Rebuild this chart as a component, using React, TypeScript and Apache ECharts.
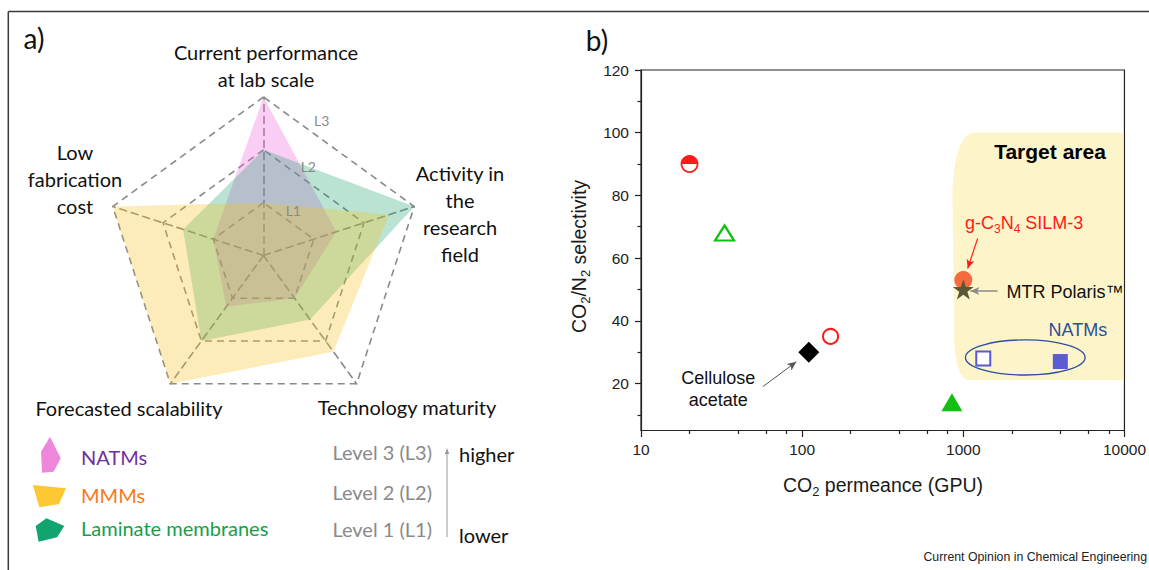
import React, { useEffect, useRef } from "react";
import * as echarts from "echarts";

// ---------------- panel a) : radar ----------------
const radarAxisNames = [
  "Current performance\nat lab scale",
  "Low\nfabrication\ncost",
  "Forecasted scalability",
  "Technology maturity",
  "Activity in\nthe\nresearch\nfield",
];
const radarMax = 3; // L3
const natmsLevels = [3, 1, 1.2, 1, 1.45];
const mmmsLevels = [1, 3, 3, 2.25, 2.5];
const laminateLevels = [2, 1.6, 2, 1.5, 3];
const membraneNames = ["NATMs", "MMMs", "Laminate membranes"];
const levelTags = ["L1", "L2", "L3"];
const levelLegend = ["Level 3 (L3)", "Level 2 (L2)", "Level 1 (L1)"];
const levelWords = ["higher", "lower"];

// ---------------- panel b) : scatter ----------------
const xMinorTicks = [20, 40, 60, 80, 200, 400, 600, 800, 2000, 4000, 6000, 8000];
const yMajorTicks = [20, 40, 60, 80, 100, 120];
const yMinorTicks = [10, 30, 50, 70, 90, 110];
const halfFilledCircle = [[20, 90]];
const openTriangle = [[33, 68]];
const celluloseAcetate = [[110, 30]];
const openCircle = [[150, 35]];
const filledTriangle = [[850, 14]];
const gC3N4Silm3 = [[1000, 53]];
const mtrPolaris = [[1000, 50]];
const natmsOpenSquare = [[1330, 28]];
const natmsFilledSquare = [[4000, 27]];
const targetAreaX = [855, 10000];
const targetAreaY = [21, 100];
const natmsEllipseX = [1031, 5700];
const natmsEllipseY = [22.7, 33.9];
const celluloseArrow = [[57, 19], [92, 26.9]];
const silmArrow = [[1228, 66.3], [1065, 56.7]];
const mtrArrow = [[1633, 49.5], [1107, 49.5]];

const LEFT_FONT = 'Lato, "Open Sans", sans-serif';
const RIGHT_FONT = '"Liberation Sans", Arial, sans-serif';

function txt(t: string, x: number, y: number, o: any = {}) {
  return {
    type: "text",
    x,
    y,
    rotation: o.rotation || 0,
    silent: true,
    z: 100,
    style: {
      text: t,
      fill: o.color || "#111",
      fontSize: o.size || 20,
      fontFamily: o.family || LEFT_FONT,
      fontWeight: o.weight || "normal",
      align: o.align || "center",
      verticalAlign: o.valign || "middle",
      lineHeight: o.lineHeight,
      rich: o.rich,
    },
  };
}

const STAR =
  "path://M50,0 L61.8,35.3 L98.9,35.3 L68.8,57.1 L80.3,92.7 L50,70.9 L19.7,92.7 L31.2,57.1 L1.1,35.3 L38.2,35.3 Z";

function buildOption(): any {
  const radarNamePos = [
    [266, 65.3],
    [75, 179.3],
    [129, 408.3],
    [407, 406.7],
    [460, 213.3],
  ];
  const levelTagPos = [
    [293.3, 210],
    [308.3, 166],
    [321.7, 120.7],
  ];
  const legendIcons = [
    { pts: [[50, 436.7], [60.7, 458.3], [53.6, 471.7], [42.1, 472.7], [41, 451.7]], color: "#ee86dc" },
    { pts: [[32.9, 485], [66, 488.3], [59, 504], [39.3, 507.3]], color: "#fdc832" },
    { pts: [[35.7, 526], [46.4, 518.3], [64.3, 526], [57.1, 537.3], [38.6, 541.7]], color: "#12a46e" },
  ];
  const legendColors = ["#7030a0", "#f47a20", "#14a049"];
  const legendY = [456.7, 495, 528.3];
  const levelY = [451.7, 491.7, 529.3];

  const graphic: any[] = [
    { type: "line", silent: true, shape: { x1: 8.3, y1: 11.6, x2: 1149, y2: 11.6 }, style: { stroke: "#3a3a3a", lineWidth: 1.5 } },
    { type: "line", silent: true, shape: { x1: 8.3, y1: 11.6, x2: 8.3, y2: 570 }, style: { stroke: "#3a3a3a", lineWidth: 1.5 } },
    txt("a)", 34, 38, { size: 28 }),
    txt("b)", 597, 40, { size: 28 }),
  ];
  radarAxisNames.forEach((n, i) => {
    graphic.push(txt(n, radarNamePos[i][0], radarNamePos[i][1], { size: 20, lineHeight: 27 }));
  });
  levelTags.forEach((t, i) => {
    graphic.push(txt(t, levelTagPos[i][0], levelTagPos[i][1], { size: 14, color: "#8a8a8a" }));
  });
  membraneNames.forEach((n, i) => {
    graphic.push({ type: "polygon", silent: true, shape: { points: legendIcons[i].pts }, style: { fill: legendIcons[i].color } });
    graphic.push(txt(n, 81, legendY[i], { size: 20, color: legendColors[i], align: "left" }));
  });
  levelLegend.forEach((t, i) => {
    graphic.push(txt(t, 432, levelY[i], { size: 20, color: "#8a8a8a", align: "right" }));
  });
  graphic.push({ type: "line", silent: true, shape: { x1: 447, y1: 537, x2: 447, y2: 452 }, style: { stroke: "#9a9a9a", lineWidth: 1 } });
  graphic.push({ type: "polygon", silent: true, shape: { points: [[447, 448], [444.8, 454], [449.2, 454]] }, style: { fill: "#9a9a9a" } });
  graphic.push(txt(levelWords[0], 459, 454.3, { size: 20, align: "left" }));
  graphic.push(txt(levelWords[1], 459, 535, { size: 20, align: "left" }));

  // panel b texts
  const subRich = (size: number, color: string) => ({
    a: { fontSize: size, fontFamily: RIGHT_FONT, fill: color, color, lineHeight: 24 },
    s: { fontSize: Math.round(size * 0.66), fontFamily: RIGHT_FONT, fill: color, color, lineHeight: 12, padding: [12, 0, 0, 0] },
  });
  graphic.push(
    txt("{a|CO}{s|2}{a| permeance (GPU)}", 883, 485, { family: RIGHT_FONT, rich: subRich(19.5, "#1a1a1a") })
  );
  graphic.push(
    txt("{a|CO}{s|2}{a|/N}{s|2}{a| selectivity}", 579, 256.5, {
      family: RIGHT_FONT,
      rotation: Math.PI / 2,
      rich: subRich(19.5, "#1a1a1a"),
    })
  );
  graphic.push(txt("Target area", 1050, 151.7, { family: RIGHT_FONT, size: 21, weight: "bold", color: "#000" }));
  graphic.push(
    txt("{a|g-C}{s|3}{a|N}{s|4}{a| SILM-3}", 965, 223, {
      family: RIGHT_FONT,
      align: "left",
      rich: {
        a: { fontSize: 18, fontFamily: RIGHT_FONT, fill: "#ff1a1a", color: "#ff1a1a", lineHeight: 22 },
        s: { fontSize: 12, fontFamily: RIGHT_FONT, fill: "#ff1a1a", color: "#ff1a1a", lineHeight: 10, padding: [12, 0, 0, 0] },
      },
    })
  );
  graphic.push(txt("MTR Polaris\u2122", 1006.5, 291.7, { family: RIGHT_FONT, size: 18, align: "left", color: "#111" }));
  graphic.push(txt("NATMs", 1048.5, 330, { family: RIGHT_FONT, size: 18, align: "left", color: "#2c4f9c" }));
  graphic.push(txt("Cellulose\nacetate", 718.3, 389.2, { family: RIGHT_FONT, size: 18, lineHeight: 21.7, color: "#111" }));
  graphic.push(
    txt("Current Opinion in Chemical Engineering", 1147, 557, { family: RIGHT_FONT, size: 12.3, align: "right", color: "#222" })
  );

  const axisLine = { show: true, lineStyle: { color: "#222", width: 1.2 } };
  const solid = (style: any) => ({ opacity: 1, ...style });

  return {
    animation: false,
    backgroundColor: "#fff",
    graphic,
    radar: {
      center: [263.5, 255.5],
      radius: 158.5,
      startAngle: 90,
      splitNumber: 3,
      shape: "polygon",
      indicator: radarAxisNames.map((n) => ({ name: n, min: 0, max: radarMax })),
      axisName: { show: false },
      axisLine: { lineStyle: { color: "#8a8a8a", width: 1.6, type: [7, 5] } },
      splitLine: { lineStyle: { color: "#8a8a8a", width: 1.6, type: [7, 5] } },
      splitArea: { show: false },
      axisTick: { show: false },
      axisLabel: { show: false },
    },
    grid: {
      left: 641,
      top: 70,
      width: 484.5,
      height: 360.5,
      show: true,
      borderColor: "#222",
      borderWidth: 1.2,
      backgroundColor: "transparent",
    },
    xAxis: [
      {
        type: "log",
        logBase: 10,
        min: 10,
        max: 10000,
        position: "bottom",
        axisLine,
        axisTick: { show: true, length: 6.5, lineStyle: { color: "#222", width: 1.2 } },
        axisLabel: {
          color: "#222",
          fontSize: 15.5,
          fontFamily: RIGHT_FONT,
          margin: 11,
          formatter: (v: number) => String(Math.round(v)),
        },
        splitLine: { show: false },
        minorTick: { show: false },
      },
      {
        type: "value",
        min: 1,
        max: 4,
        position: "bottom",
        axisLine: { show: false },
        axisTick: { show: true, length: 3.5, customValues: xMinorTicks.map((v) => Math.log10(v)), lineStyle: { color: "#222", width: 1.2 } },
        axisLabel: { show: false },
        splitLine: { show: false },
      },
    ],
    yAxis: [
      {
        type: "value",
        min: 5,
        max: 120,
        position: "left",
        axisLine,
        axisTick: { show: true, length: 6, customValues: yMajorTicks, lineStyle: { color: "#222", width: 1.2 } },
        axisLabel: { color: "#222", fontSize: 15.5, fontFamily: RIGHT_FONT, margin: 12, customValues: yMajorTicks },
        splitLine: { show: false },
      },
      {
        type: "value",
        min: 5,
        max: 120,
        position: "left",
        axisLine: { show: false },
        axisTick: { show: true, length: 3.5, customValues: yMinorTicks, lineStyle: { color: "#222", width: 1.2 } },
        axisLabel: { show: false },
        splitLine: { show: false },
      },
    ],
    series: [
      {
        type: "radar",
        symbol: "none",
        silent: true,
        data: [
          { name: membraneNames[0], value: natmsLevels, areaStyle: { color: "rgba(240,100,220,0.45)" }, lineStyle: { opacity: 0, width: 0 } },
          { name: membraneNames[2], value: laminateLevels, areaStyle: { color: "rgba(20,160,110,0.42)" }, lineStyle: { opacity: 0, width: 0 } },
          { name: membraneNames[1], value: mmmsLevels, areaStyle: { color: "rgba(250,195,30,0.44)" }, lineStyle: { opacity: 0, width: 0 } },
        ],
      },
      {
        type: "custom",
        coordinateSystem: "cartesian2d",
        silent: true,
        z: 1,
        data: [[targetAreaX[0], targetAreaY[0], targetAreaX[1], targetAreaY[1]]],
        renderItem: (params: any, api: any) => {
          const p1 = api.coord([api.value(0), api.value(3)]);
          const p2 = api.coord([api.value(2), api.value(1)]);
          const L = p1[0], T = p1[1], R = p2[0] - 1, B = p2[1];
          const d =
            `M${L + 19} ${T} L${R} ${T} L${R} ${B} L${L + 16} ${B} ` +
            `C${L + 8} ${B - 2} ${L + 3} ${B - 15} ${L + 2} ${B - 40} ` +
            `L${L} ${T + 60} C${L + 1} ${T + 25} ${L + 8} ${T + 4} ${L + 19} ${T} Z`;
          return { type: "path", shape: { pathData: d }, style: { fill: "#fdf5c9" } };
        },
      },
      {
        type: "custom",
        coordinateSystem: "cartesian2d",
        silent: true,
        z: 3,
        data: [[natmsEllipseX[0], natmsEllipseY[0], natmsEllipseX[1], natmsEllipseY[1]]],
        renderItem: (params: any, api: any) => {
          const p1 = api.coord([api.value(0), api.value(3)]);
          const p2 = api.coord([api.value(2), api.value(1)]);
          return {
            type: "ellipse",
            shape: { cx: (p1[0] + p2[0]) / 2, cy: (p1[1] + p2[1]) / 2, rx: Math.abs(p2[0] - p1[0]) / 2, ry: Math.abs(p2[1] - p1[1]) / 2 },
            style: { fill: "none", stroke: "#2d4f9f", lineWidth: 1.3 },
          };
        },
      },
      { type: "scatter", silent: true, data: halfFilledCircle, symbol: "circle", symbolSize: 16, itemStyle: solid({ color: "#fff", borderColor: "#ff1a1a", borderWidth: 1.8 }), z: 5 },
      { type: "scatter", silent: true, data: halfFilledCircle, symbol: "path://M0,10 A10,10 0 0 1 20,10 Z", symbolSize: [16, 8], symbolOffset: [0, -4], itemStyle: solid({ color: "#ff1a1a" }), z: 6 },
      { type: "scatter", silent: true, data: openTriangle, symbol: "triangle", symbolSize: [19, 15], itemStyle: solid({ color: "#fff", borderColor: "#10c010", borderWidth: 2.2 }), z: 5 },
      {
        type: "scatter",
        silent: true,
        data: celluloseAcetate,
        symbol: "diamond",
        symbolSize: [21, 21],
        itemStyle: solid({ color: "#000" }),
        z: 5,
        markLine: {
          silent: true,
          symbol: ["none", "arrow"],
          symbolSize: [6, 9],
          label: { show: false },
          lineStyle: { type: "solid" },
          data: [
            [{ coord: celluloseArrow[0], lineStyle: { color: "#555", width: 1, type: "solid" } }, { coord: celluloseArrow[1] }],
            [{ coord: silmArrow[0], lineStyle: { color: "#ff1a1a", width: 1.2, type: "solid" } }, { coord: silmArrow[1] }],
            [{ coord: mtrArrow[0], lineStyle: { color: "#8a8a8a", width: 1.5, type: "solid" } }, { coord: mtrArrow[1] }],
          ],
        },
      },
      { type: "scatter", silent: true, data: openCircle, symbol: "circle", symbolSize: 15, itemStyle: solid({ color: "#fff", borderColor: "#ff1a1a", borderWidth: 2 }), z: 5 },
      { type: "scatter", silent: true, data: filledTriangle, symbol: "triangle", symbolSize: [21, 18], itemStyle: solid({ color: "#12c012" }), z: 5 },
      { type: "scatter", silent: true, data: gC3N4Silm3, symbol: "circle", symbolSize: 18, itemStyle: solid({ color: "#f66a3e" }), z: 5 },
      { type: "scatter", silent: true, data: mtrPolaris, symbol: STAR, symbolSize: [21, 20], itemStyle: solid({ color: "#5a5636" }), z: 6 },
      { type: "scatter", silent: true, data: natmsOpenSquare, symbol: "rect", symbolSize: 14, itemStyle: solid({ color: "#fff", borderColor: "#5a5ad0", borderWidth: 2 }), z: 5 },
      { type: "scatter", silent: true, data: natmsFilledSquare, symbol: "rect", symbolSize: 15, itemStyle: solid({ color: "#5b5bd2" }), z: 5 },
    ],
  };
}

export default function App() {
  const ref = useRef<HTMLDivElement>(null);
  useEffect(() => {
    const chart = echarts.init(ref.current as HTMLDivElement, null, { renderer: "svg" });
    chart.setOption(buildOption());
    return () => chart.dispose();
  }, []);
  return (
    <div
      ref={ref}
      style={{ position: "fixed", left: 0, top: 0, width: 1149, height: 570, background: "#fff" }}
    />
  );
}
